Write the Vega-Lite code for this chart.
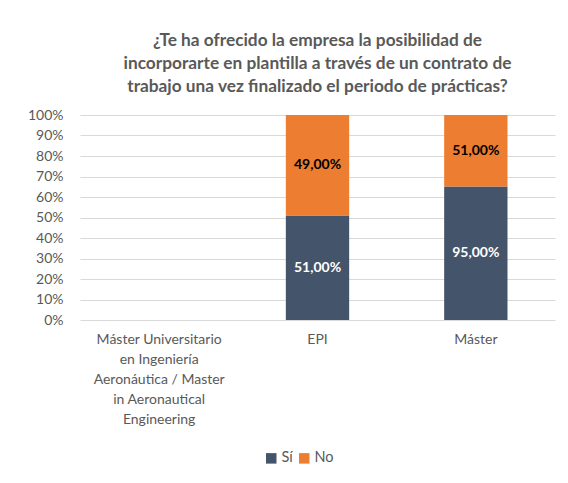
{
  "$schema": "https://vega.github.io/schema/vega-lite/v6.json",
  "autosize": "none",
  "width": 475,
  "height": 205,
  "padding": {"left": 80, "top": 115, "right": 13, "bottom": 163},
  "background": "white",
  "title": {
    "text": ["¿Te ha ofrecido la empresa la posibilidad de", "incorporarte en plantilla a través de un contrato de", "trabajo una vez finalizado el periodo de prácticas?"],
    "font": "Lato",
    "fontSize": 17.3,
    "fontWeight": "bold",
    "color": "#595959",
    "lineHeight": 23,
    "anchor": "middle",
    "offset": 13
  },
  "data": {
    "values": [
      {"cat": "EPI", "answer": "Sí", "ord": 1, "value": 51},
      {"cat": "EPI", "answer": "No", "ord": 2, "value": 49},
      {"cat": "Máster", "answer": "Sí", "ord": 1, "value": 95},
      {"cat": "Máster", "answer": "No", "ord": 2, "value": 51}
    ]
  },
  "transform": [
    {"joinaggregate": [{"op": "sum", "field": "value", "as": "total"}], "groupby": ["cat"]},
    {"window": [{"op": "sum", "field": "value", "as": "cum"}], "groupby": ["cat"], "sort": [{"field": "ord", "order": "ascending"}], "frame": [null, 0]},
    {"calculate": "(datum.cum - datum.value) / datum.total", "as": "y0"},
    {"calculate": "datum.cum / datum.total", "as": "y1"},
    {"calculate": "(datum.cum - datum.value / 2) / datum.total", "as": "ymid"},
    {"calculate": "replace(format(datum.value / 100, '.2%'), '.', ',')", "as": "label"}
  ],
  "encoding": {
    "x": {
      "field": "cat",
      "type": "nominal",
      "sort": null,
      "scale": {"domain": ["Máster Universitario en Ingeniería Aeronáutica / Master in Aeronautical Engineering", "EPI", "Máster"], "paddingInner": 0.6, "paddingOuter": 0.3},
      "axis": {
        "title": null,
        "labelAngle": 0,
        "labelFont": "Lato",
        "labelFontSize": 14,
        "labelColor": "#595959",
        "labelLineHeight": 20,
        "labelBaseline": "top",
        "labelPadding": 12,
        "ticks": false,
        "domain": false,
        "labelExpr": "datum.label == 'EPI' || datum.label == 'Máster' ? datum.label : ['Máster Universitario', 'en Ingeniería', 'Aeronáutica / Master', 'in Aeronautical', 'Engineering']"
      }
    }
  },
  "layer": [
    {
      "mark": {"type": "bar"},
      "encoding": {
        "y": {
          "field": "y1",
          "type": "quantitative",
          "scale": {"domain": [0, 1]},
          "axis": {
            "title": null,
            "format": ".0%",
            "values": [0, 0.1, 0.2, 0.3, 0.4, 0.5, 0.6, 0.7, 0.8, 0.9, 1],
            "labelOverlap": false,
            "labelFlush": false,
            "labelFont": "Lato",
            "labelFontSize": 14,
            "labelColor": "#595959",
            "labelPadding": 17,
            "ticks": false,
            "domain": false,
            "grid": true,
            "gridColor": "#d9d9d9",
            "gridWidth": 1
          }
        },
        "y2": {"field": "y0"},
        "color": {
          "field": "answer",
          "type": "nominal",
          "sort": ["Sí", "No"],
          "scale": {"domain": ["Sí", "No"], "range": ["#44546A", "#ED7D31"]},
          "legend": {
            "title": null,
            "orient": "none",
            "direction": "horizontal",
            "legendX": 184,
            "legendY": 336,
            "symbolType": "square",
            "symbolSize": 110,
            "symbolStrokeWidth": 0,
            "labelFont": "Lato",
            "labelFontSize": 14.5,
            "labelColor": "#595959",
            "labelOffset": 3,
            "columnPadding": 4
          }
        }
      }
    },
    {
      "mark": {"type": "text", "font": "Lato", "fontSize": 14, "fontWeight": "bold", "baseline": "middle"},
      "encoding": {
        "y": {
          "field": "ymid",
          "type": "quantitative",
          "scale": {"domain": [0, 1]},
          "axis": {
            "title": null,
            "format": ".0%",
            "values": [0, 0.1, 0.2, 0.3, 0.4, 0.5, 0.6, 0.7, 0.8, 0.9, 1],
            "labelOverlap": false,
            "labelFlush": false,
            "labelFont": "Lato",
            "labelFontSize": 14,
            "labelColor": "#595959",
            "labelPadding": 17,
            "ticks": false,
            "domain": false,
            "grid": true,
            "gridColor": "#d9d9d9",
            "gridWidth": 1
          }
        },
        "text": {"field": "label"},
        "color": {"condition": {"test": "datum.answer == 'Sí'", "value": "#ffffff"}, "value": "#000000"}
      }
    }
  ],
  "config": {"view": {"stroke": null}}
}
